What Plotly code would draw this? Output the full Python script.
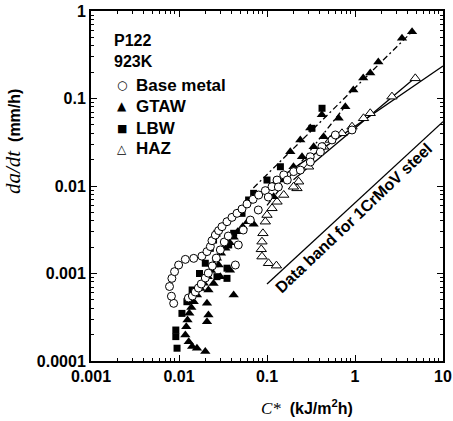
import plotly.graph_objects as go

# ---------------- data ----------------
base_x = [0.0087, 0.0082, 0.0078, 0.0083, 0.0089, 0.0099, 0.0118, 0.0147, 0.0182, 0.0208,
          0.0227, 0.0237, 0.0259, 0.0282, 0.0308, 0.0351, 0.040, 0.0456, 0.052, 0.0593,
          0.0694, 0.0804, 0.0957, 0.114, 0.130, 0.155, 0.201, 0.310, 0.421, 0.548, 0.598, 0.925,
          0.0128, 0.0142, 0.0153, 0.0166, 0.0179, 0.0199, 0.0215, 0.0239, 0.0265, 0.0295,
          0.0327, 0.0363, 0.0437, 0.0472, 0.0537, 0.0646, 0.0796, 0.1035, 0.1345, 0.170,
          0.239, 0.311, 0.404]
base_y = [0.000456, 0.00055, 0.00071, 0.00088, 0.00105, 0.00125, 0.00145, 0.00149, 0.00158, 0.00178,
          0.00203, 0.00237, 0.00275, 0.00309, 0.00343, 0.00391, 0.00438, 0.00487, 0.00546, 0.00623,
          0.00704, 0.00789, 0.00885, 0.00983, 0.0117, 0.0134, 0.0146, 0.0216, 0.0282, 0.0336, 0.0383, 0.0437,
          0.000525, 0.000553, 0.000615, 0.000683, 0.000759, 0.000889, 0.00101, 0.00122, 0.0015, 0.00186,
          0.00229, 0.00268, 0.00125, 0.00212, 0.00314, 0.00408, 0.00532, 0.00748, 0.00975, 0.0117,
          0.0152, 0.0188, 0.0245]

gtaw_x = [0.0199, 0.016, 0.0141, 0.0129, 0.0118, 0.0121, 0.0125, 0.0131, 0.0138, 0.0147,
          0.016, 0.0175, 0.0191, 0.0212, 0.0231, 0.0248, 0.027, 0.030, 0.0336, 0.0377,
          0.0418, 0.0464, 0.0529, 0.0602, 0.0705,
          0.0208, 0.0216, 0.0208, 0.0216, 0.0247, 0.0295, 0.038, 0.0418, 0.0282,
          4.45, 3.42, 1.84, 1.49, 1.24, 0.957, 0.776, 0.42, 0.31, 0.239, 0.184,
          0.652, 0.44, 0.339, 0.25, 0.2, 0.155, 0.119]
gtaw_y = [0.000128, 0.00014, 0.000146, 0.000166, 0.000198, 0.000247, 0.000294, 0.000351, 0.00041, 0.000476,
          0.000568, 0.000676, 0.000772, 0.00092, 0.00108, 0.00125, 0.00149, 0.0017, 0.00194, 0.00225,
          0.00259, 0.0030, 0.00343, 0.00391, 0.00365,
          0.000281, 0.000336, 0.000456, 0.000648, 0.00077, 0.00092, 0.00109, 0.000568, 0.00125,
          0.58, 0.487, 0.261, 0.195, 0.171, 0.125, 0.0805, 0.065, 0.046, 0.0336, 0.0247,
          0.0594, 0.0366, 0.0281, 0.0216, 0.0166, 0.0117, 0.00755]

lbw_x = [0.0095, 0.0092, 0.0092, 0.0108, 0.0123, 0.0141, 0.0171, 0.0199, 0.0227, 0.0247,
         0.027, 0.0367, 0.0351, 0.0351, 0.027, 0.0418, 0.052, 0.0618, 0.0705, 0.1,
         0.142, 0.324, 0.422]
lbw_y = [0.00014, 0.00019, 0.000226, 0.00035, 0.000476, 0.000648, 0.001, 0.00131, 0.00194, 0.00241,
         0.00288, 0.00212, 0.00115, 0.00088, 0.00092, 0.00288, 0.00487, 0.00692, 0.00824, 0.0117,
         0.0166, 0.0456, 0.0773]

haz_x = [4.84, 2.63, 1.49, 1.25, 0.925, 0.711, 0.524, 0.44, 0.297, 0.229, 0.219, 0.2,
         0.155, 0.13, 0.114, 0.1, 0.0957, 0.0899, 0.0877, 0.0861, 0.0877, 0.104, 0.128]
haz_y = [0.17, 0.105, 0.0678, 0.0594, 0.0476, 0.04, 0.0336, 0.0281, 0.0166, 0.0112, 0.0094, 0.0098,
         0.0079, 0.0066, 0.00556, 0.00466, 0.00391, 0.00288, 0.00231, 0.00189, 0.00156, 0.00131, 0.00123]

# lines
band_low_x = [0.1, 10]
band_low_y = [0.00076, 0.0544]
band_up_x = [0.11, 10]
band_up_y = [0.0105, 0.235]
haz_fit_x = [0.2, 4.9]
haz_fit_y = [0.0118, 0.175]
gtaw_fit1_x = [0.07, 4.6]
gtaw_fit1_y = [0.0095, 0.6]
gtaw_fit2_x = [0.1, 0.8]
gtaw_fit2_y = [0.006, 0.085]

x_ticks = [0.001, 0.01, 0.1, 1, 10]
x_ticktext = ["0.001", "0.01", "0.1", "1", "10"]
y_ticks = [0.0001, 0.001, 0.01, 0.1, 1]
y_ticktext = ["0.0001", "0.001", "0.01", "0.1", "1"]

legend_names = ["Base metal", "GTAW", "LBW", "HAZ"]
legend_glyphs = ["\u25cb", "\u25b2", "\u25a0", "\u25b3"]

SANS = "Liberation Sans, Arial, Helvetica, sans-serif"

W, H = 453, 421
L, R, T, B = 91, 10, 11, 60
PW, PH = W - L - R, H - T - B


def px(xp):
    return (xp - L) / PW


def py(yp):
    return (H - B - yp) / PH


fig = go.Figure()

for lx, ly, dash in [(band_low_x, band_low_y, "solid"), (band_up_x, band_up_y, "solid"),
                     (haz_fit_x, haz_fit_y, "solid"), (gtaw_fit1_x, gtaw_fit1_y, "6px,3px,2px,3px"),
                     (gtaw_fit2_x, gtaw_fit2_y, "6px,3px,2px,3px")]:
    fig.add_trace(go.Scatter(x=lx, y=ly, mode="lines", showlegend=False, hoverinfo="skip",
                             line=dict(color="black", width=1.3, dash=dash)))

fig.add_trace(go.Scatter(x=haz_x, y=haz_y, mode="markers", name="HAZ", showlegend=False,
                         marker=dict(symbol="triangle-up", size=9, color="white",
                                     line=dict(color="black", width=1))))
fig.add_trace(go.Scatter(x=lbw_x, y=lbw_y, mode="markers", name="LBW", showlegend=False,
                         marker=dict(symbol="square", size=7, color="black",
                                     line=dict(color="black", width=0))))
fig.add_trace(go.Scatter(x=gtaw_x, y=gtaw_y, mode="markers", name="GTAW", showlegend=False,
                         marker=dict(symbol="triangle-up", size=9, color="black",
                                     line=dict(color="black", width=0))))
fig.add_trace(go.Scatter(x=base_x, y=base_y, mode="markers", name="Base metal", showlegend=False,
                         marker=dict(symbol="circle", size=8, color="white",
                                     line=dict(color="black", width=1))))

minor_vals = [k * 10 ** e for e in range(-4, 1) for k in range(2, 10)]

axis_common = dict(type="log", showline=True, linecolor="black", linewidth=2, mirror="allticks",
                   ticks="inside", ticklen=6, tickwidth=1, tickcolor="black", showgrid=False,
                   zeroline=False, automargin=False,
                   tickfont=dict(family=SANS, size=16, color="black", weight="bold"),
                   minor=dict(tickvals=minor_vals, ticks="inside", ticklen=3, tickwidth=1,
                              tickcolor="black", showgrid=False))

fig.update_xaxes(range=[-3, 1], tickvals=x_ticks, ticktext=x_ticktext, **axis_common)
fig.update_yaxes(range=[-4, 0], tickvals=y_ticks, ticktext=y_ticktext, **axis_common)

ital = "font-family:Liberation Serif;font-style:italic;font-weight:normal;color:#000000"

annotations = [
    dict(text="P122<br>923K", xref="paper", yref="paper", x=px(112), y=py(30),
         xanchor="left", yanchor="top", showarrow=False, align="left",
         font=dict(family=SANS, size=16, color="black", weight="bold")),
    dict(text="Data band for 1CrMoV steel", xref="paper", yref="paper",
         x=px(353), y=py(218), xanchor="center", yanchor="middle",
         showarrow=False, textangle=-43.5,
         font=dict(family=SANS, size=16, color="black", weight="bold")),
    dict(text="<span style='" + ital + ";font-size:17px'>C*</span>  (kJ/m<sup>2</sup>h)",
         xref="paper", yref="paper", x=px(307), y=py(407), xanchor="center", yanchor="middle",
         showarrow=False, font=dict(family=SANS, size=16, color="black", weight="bold")),
    dict(text="<span style='" + ital + ";font-size:21px'>da/dt</span>  (mm/h)",
         xref="paper", yref="paper", x=px(13), y=py(142), xanchor="center", yanchor="middle",
         showarrow=False, textangle=-90,
         font=dict(family=SANS, size=16, color="black", weight="bold")),
]

legend_rows = [85, 106, 128, 149]
glyph_sizes = [12, 12, 11, 12]
for name, glyph, gs, ry in zip(legend_names, legend_glyphs, glyph_sizes, legend_rows):
    annotations.append(dict(text=glyph, xref="paper", yref="paper", x=px(122), y=py(ry),
                            xanchor="center", yanchor="middle", showarrow=False,
                            font=dict(family="DejaVu Sans", size=gs, color="black")))
    annotations.append(dict(text=name, xref="paper", yref="paper", x=px(134), y=py(ry),
                            xanchor="left", yanchor="middle", showarrow=False,
                            font=dict(family=SANS, size=17, color="black", weight="bold")))

fig.update_layout(
    template="none",
    width=W, height=H,
    margin=dict(l=L, r=R, t=T, b=B, autoexpand=False),
    paper_bgcolor="white", plot_bgcolor="white",
    font=dict(family=SANS, color="black"),
    showlegend=False,
    annotations=annotations,
)

fig.write_html("out.html", config={"displayModeBar": False},
               post_script="document.body.style.margin='0';")
